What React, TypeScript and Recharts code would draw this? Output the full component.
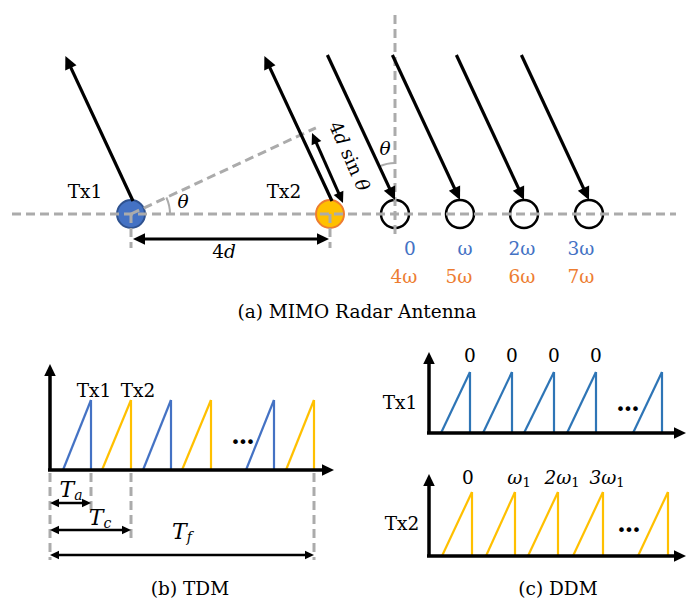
import React from 'react';
import { ComposedChart, XAxis, YAxis, ReferenceLine, ReferenceDot } from 'recharts';

// canvas in picture units (1 unit = 1 px), y grows downward
const W = 686;
const H = 600;

// (a) antenna geometry
const baseY = 214;
const txX = [131, 330];
const txNames = ['Tx1', 'Tx2'];
const rxX = [395, 460, 524, 589];
const rxPhaseA = ['0', 'ω', '2ω', '3ω'];
const rxPhaseB = ['4ω', '5ω', '6ω', '7ω'];
const rxLabelXA = [410, 465, 522, 581];
const rxLabelXB = [404, 459, 522, 581];
const thetaDeg = 25;
const rayLength = 160;

// (b) TDM chirps
const tdmStart = [63, 102, 143, 182, 246, 286];
const tdmEnd = [91, 131, 171, 211, 274, 314];
const tdmTx = [1, 2, 1, 2, 1, 2];
const tdmMarks = [91, 131, 314]; // Ta, Tc, Tf ends

// (c) DDM chirps
const ddm1Start = [441, 483, 524, 567, 633];
const ddm1End = [470, 512, 554, 596, 662];
const ddm1Phase = ['0', '0', '0', '0'];
const ddm2Start = [442, 486, 528, 573, 638];
const ddm2End = [472, 515, 558, 603, 668];
const ddm2Phase = [['0', ''], ['ω', '1'], ['2ω', '1'], ['3ω', '1']];

const SERIF = '"DejaVu Serif", "Liberation Serif", serif';
const GRAY = '#ABABAB';
const BLUE = '#4472C4';
const BLUE2 = '#2E75B6';
const ORANGE = '#ED7D31';
const YELLOW = '#FFC000';
const DASH = '9 5';

const rad = (thetaDeg * Math.PI) / 180;

function arrowShape(width: number, head: number, both = false, color = '#000') {
  return (p: any) => {
    const { x1, y1, x2, y2 } = p;
    const dx = x2 - x1;
    const dy = y2 - y1;
    const len = Math.hypot(dx, dy) || 1;
    const ux = dx / len;
    const uy = dy / len;
    const hw = head * 0.48;
    const tri = (tx: number, ty: number, sx: number, sy: number) => {
      const bx = tx - sx * head;
      const by = ty - sy * head;
      return `${tx},${ty} ${bx - sy * hw},${by + sx * hw} ${bx + sy * hw},${by - sx * hw}`;
    };
    const ax = both ? x1 + ux * head * 0.8 : x1;
    const ay = both ? y1 + uy * head * 0.8 : y1;
    return (
      <g>
        <line x1={ax} y1={ay} x2={x2 - ux * head * 0.8} y2={y2 - uy * head * 0.8} stroke={color} strokeWidth={width} />
        <polygon points={tri(x2, y2, ux, uy)} fill={color} />
        {both && <polygon points={tri(x1, y1, -ux, -uy)} fill={color} />}
      </g>
    );
  };
}

function arrow(key: string, x1: number, y1: number, x2: number, y2: number, width: number, head: number, both = false) {
  return (
    <ReferenceLine
      key={key}
      segment={[{ x: x1, y: y1 }, { x: x2, y: y2 }]}
      ifOverflow="visible"
      zIndex={500}
      shape={arrowShape(width, head, both)}
    />
  );
}

function seg(key: string, x1: number, y1: number, x2: number, y2: number, stroke: string, width: number, dash?: string, z = 400) {
  return (
    <ReferenceLine
      key={key}
      segment={[{ x: x1, y: y1 }, { x: x2, y: y2 }]}
      ifOverflow="visible"
      stroke={stroke}
      strokeWidth={width}
      strokeDasharray={dash}
      zIndex={z}
    />
  );
}

const dashed = (key: string, x1: number, y1: number, x2: number, y2: number) =>
  seg(key, x1, y1, x2, y2, GRAY, 3, DASH, 300);

// a chirp: linear rise then vertical drop back to the axis
const chirp = (key: string, start: number, end: number, base: number, top: number, color: string) => [
  seg(`${key}u`, start, base, end, top, color, 2.2),
  seg(`${key}d`, end, top, end, base, color, 2.2),
];

function text(key: string, x: number, y: number, content: React.ReactNode, extra: any = {}) {
  const { rotate, ...rest } = extra;
  return (
    <ReferenceDot
      key={key}
      x={x}
      y={y}
      r={0}
      ifOverflow="visible"
      zIndex={2000}
      shape={(p: any) => (
        <text
          x={p.cx}
          y={p.cy}
          textAnchor="middle"
          dominantBaseline="central"
          fontFamily={SERIF}
          fontSize={18.5}
          fill="#000"
          transform={rotate ? `rotate(${rotate} ${p.cx} ${p.cy})` : undefined}
          {...rest}
        >
          {content}
        </text>
      )}
    />
  );
}

function arc(key: string, x: number, y: number, r: number, a0: number, a1: number) {
  // angles in degrees, screen coords (0 = right, -90 = up)
  return (
    <ReferenceDot
      key={key}
      x={x}
      y={y}
      r={0}
      ifOverflow="visible"
      zIndex={300}
      shape={(p: any) => {
        const s = (a0 * Math.PI) / 180;
        const e = (a1 * Math.PI) / 180;
        const d = `M ${p.cx + r * Math.cos(s)} ${p.cy + r * Math.sin(s)} A ${r} ${r} 0 0 0 ${p.cx + r * Math.cos(e)} ${p.cy + r * Math.sin(e)}`;
        return <path d={d} fill="none" stroke={GRAY} strokeWidth={2} />;
      }}
    />
  );
}

const dots = (key: string, x: number, y: number) =>
  text(key, x, y, '•••', { fontFamily: '"DejaVu Sans", sans-serif', fontSize: 16, letterSpacing: -2, fill: '#000' });

export default function App() {
  const els: React.ReactNode[] = [];

  // ---- (a) MIMO radar antenna ----
  txX.forEach((x, i) =>
    els.push(
      <ReferenceDot key={`tx${i}`} x={x} y={baseY} r={14} ifOverflow="visible" zIndex={100}
        fill={i === 0 ? BLUE : YELLOW} stroke={i === 0 ? '#2F528F' : ORANGE} strokeWidth={2} />
    )
  );
  rxX.forEach((x, i) =>
    els.push(
      <ReferenceDot key={`rx${i}`} x={x} y={baseY} r={14} ifOverflow="visible" zIndex={100}
        fill="none" stroke="#000" strokeWidth={2.5} />
    )
  );
  els.push(dashed('hbase', 12, baseY, 676, baseY));
  els.push(dashed('vrx', rxX[0], 15, rxX[0], 238));
  txX.forEach((x, i) => els.push(dashed(`vt${i}`, x, baseY, x, 248)));
  els.push(dashed('perp', txX[0], baseY, txX[0] + 204 * Math.cos(rad), baseY - 204 * Math.sin(rad)));
  els.push(arc('arc1', txX[0], baseY, 39, 0, -thetaDeg));
  els.push(arc('arc2', rxX[0], 200, 37, -90, -90 - thetaDeg));

  txX.forEach((x, i) =>
    els.push(arrow(`out${i}`, x + 2, 201, x + 2 - rayLength * Math.sin(rad), 201 - rayLength * Math.cos(rad), 3.2, 13))
  );
  rxX.forEach((x, i) =>
    els.push(arrow(`in${i}`, x - rayLength * Math.sin(rad), 200 - rayLength * Math.cos(rad), x, 200, 3.2, 13))
  );
  els.push(arrow('d4', 312, 133, 343, 203, 3, 11, true));
  els.push(arrow('span4d', txX[0] + 2, 239, txX[1] - 1, 239, 3, 12, true));

  txNames.forEach((n, i) => els.push(text(`txn${i}`, txX[i] - 46, 191, n)));
  els.push(text('th1', 183, 201, 'θ', { fontStyle: 'italic' }));
  els.push(text('th2', 385, 148, 'θ', { fontStyle: 'italic' }));
  els.push(text('l4d', 224, 251, <><tspan>4</tspan><tspan fontStyle="italic">d</tspan></>));
  els.push(
    text('l4dsin', 350, 156, <><tspan>4</tspan><tspan fontStyle="italic">d</tspan><tspan> sin </tspan><tspan fontStyle="italic">θ</tspan></>, { rotate: 66 })
  );
  rxPhaseA.forEach((s, i) => els.push(text(`pa${i}`, rxLabelXA[i], 248, s, { fill: BLUE })));
  rxPhaseB.forEach((s, i) => els.push(text(`pb${i}`, rxLabelXB[i], 276, s, { fill: ORANGE })));
  els.push(text('capa', 357, 311, '(a) MIMO Radar Antenna'));

  // ---- (b) TDM ----
  els.push(arrow('tdmY', 50, 471, 50, 364, 3.5, 12));
  els.push(arrow('tdmX', 48, 470, 334, 470, 3.5, 12));
  tdmStart.forEach((s, i) => els.push(...chirp(`tr${i}`, s, tdmEnd[i], 470, 400, tdmTx[i] === 1 ? BLUE : YELLOW)));
  els.push(dashed('tv0', 50, 473, 50, 560));
  els.push(dashed('tv1', tdmMarks[0], 473, tdmMarks[0], 510));
  els.push(dashed('tv2', tdmMarks[1], 473, tdmMarks[1], 540));
  els.push(dashed('tv3', tdmMarks[2], 473, tdmMarks[2], 560));
  els.push(arrow('ta', 50, 503, tdmMarks[0], 503, 2.5, 9, true));
  els.push(arrow('tc', 50, 530, tdmMarks[1], 530, 2.5, 9, true));
  els.push(arrow('tf', 50, 555, tdmMarks[2], 555, 2.5, 9, true));
  const tSym = (sub: string) => (
    <><tspan fontStyle="italic" fontSize={22}>T</tspan><tspan fontStyle="italic" fontSize={14} dy={6}>{sub}</tspan></>
  );
  els.push(text('lta', 71, 489, tSym('a')));
  els.push(text('ltc', 100, 517, tSym('c')));
  els.push(text('ltf', 182, 531, tSym('f')));
  els.push(text('ttx1', 94, 390, 'Tx1'));
  els.push(text('ttx2', 138, 390, 'Tx2'));
  els.push(dots('tdots', 242, 442));
  els.push(text('capb', 190, 588, '(b) TDM'));

  // ---- (c) DDM ----
  els.push(arrow('d1Y', 429, 434, 429, 352, 3.5, 12));
  els.push(arrow('d1X', 427, 433, 686, 433, 3.5, 12));
  els.push(arrow('d2Y', 429, 557, 429, 474, 3.5, 12));
  els.push(arrow('d2X', 427, 556, 686, 556, 3.5, 12));
  ddm1Start.forEach((s, i) => els.push(...chirp(`d1r${i}`, s, ddm1End[i], 433, 372, BLUE2)));
  ddm2Start.forEach((s, i) => els.push(...chirp(`d2r${i}`, s, ddm2End[i], 556, 492, YELLOW)));
  els.push(text('dtx1', 400, 402, 'Tx1'));
  els.push(text('dtx2', 402, 523, 'Tx2'));
  ddm1Phase.forEach((s, i) => els.push(text(`d1p${i}`, ddm1End[i], 355, s)));
  ddm2Phase.forEach(([s, sub], i) =>
    els.push(
      text(`d2p${i}`, ddm2End[i] + (i === 0 ? -4 : 4), 477,
        <><tspan fontStyle={s === '0' ? 'normal' : 'italic'}>{s}</tspan>{sub && <tspan fontSize={13} dy={5}>{sub}</tspan>}</>)
    )
  );
  els.push(dots('d1dots', 627, 409));
  els.push(dots('d2dots', 628, 530));
  els.push(text('capc', 558, 588, '(c) DDM'));

  return (
    <div style={{ position: 'absolute', left: 0, top: 0, background: '#fff' }}>
      <ComposedChart width={W} height={H} margin={{ top: 0, right: 0, bottom: 0, left: 0 }}>
        <XAxis type="number" dataKey="x" domain={[0, W]} allowDataOverflow hide />
        <YAxis type="number" dataKey="y" domain={[0, H]} allowDataOverflow reversed hide />
        {els}
      </ComposedChart>
    </div>
  );
}
